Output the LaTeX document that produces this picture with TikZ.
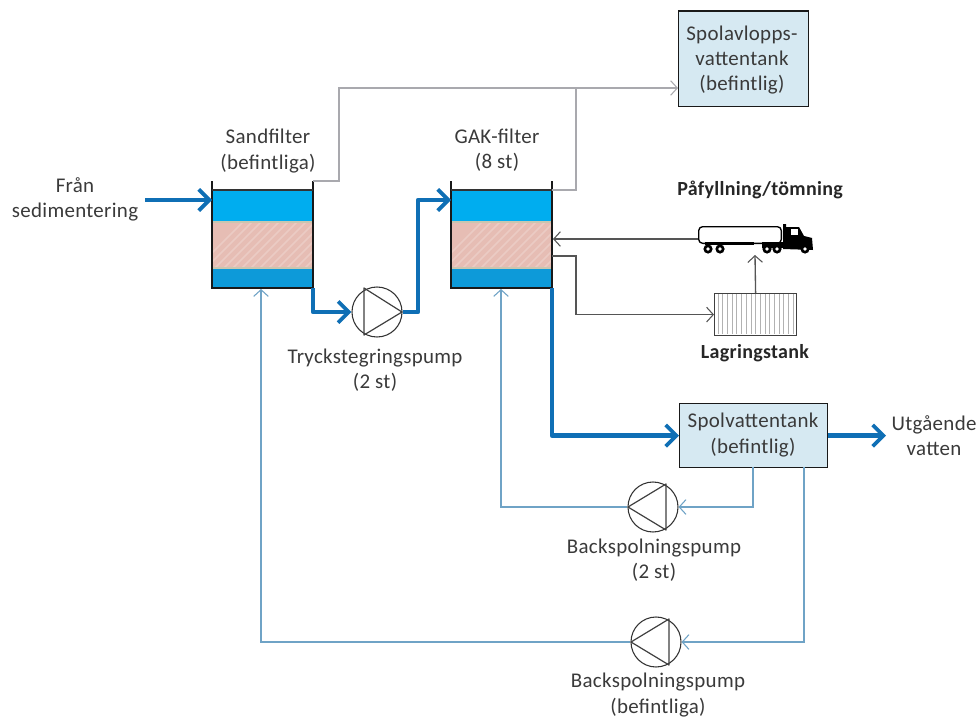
\documentclass[tikz,border=0pt]{standalone}
\usepackage{fontspec}
\setmainfont{Carlito}[LetterSpace=1.5]
\usetikzlibrary{arrows.meta}
\definecolor{txt}{HTML}{3A3A3A}
\definecolor{pipeblue}{HTML}{0F6FB5}
\definecolor{lightpipe}{HTML}{6FA3C6}
\definecolor{greypipe}{HTML}{A9A9AE}
\definecolor{darkpipe}{HTML}{555555}
\definecolor{boxfill}{HTML}{D6E9F2}
\definecolor{watertop}{HTML}{00ADEF}
\definecolor{waterlow}{HTML}{0D9AD9}
\definecolor{sandpink}{HTML}{E6BDB4}
\definecolor{sandstripe}{HTML}{EBCBC4}
\definecolor{sandedge}{HTML}{C9C6B0}
\tikzset{
  x=0.75pt,y=-0.75pt,
  label text/.style={inner sep=0pt,align=center,text=txt,font=\fontsize{15.7}{18.8}\selectfont},
  bold text/.style={inner sep=0pt,align=center,text=black!85,font=\fontsize{15}{15}\selectfont\bfseries},
  tankbox/.style={draw=black!90,line width=1pt,fill=boxfill,inner sep=0pt},
  main pipe/.style={draw=pipeblue,line width=3.4pt,line join=round,-{Straight Barb[length=8pt,width=16pt,line width=2.8pt]}},
  back pipe/.style={draw=lightpipe,line width=1pt,-{Straight Barb[length=5pt,width=11pt,line width=0.8pt]}},
  grey pipe/.style={draw=greypipe,line width=1pt,-{Straight Barb[length=5pt,width=11pt,line width=0.8pt]}},
  grey plain/.style={draw=greypipe,line width=1pt},
  dark pipe/.style={draw=darkpipe,line width=1pt,-{Straight Barb[length=5pt,width=11pt,line width=0.8pt]}},
  pump circle/.style={circle,draw=black!80,line width=0.8pt,fill=white,minimum size=37.5pt,inner sep=0pt},
  pump tri/.style={draw=black!75,line width=0.9pt,line join=round},
  water layer/.style={inner sep=0pt,minimum width=75.75pt},
}
\begin{document}
\begin{tikzpicture}
\useasboundingbox (0,0) rectangle (977,717);
\fill[white] (0,0) rectangle (977,717);

% Sand filter
\node[water layer,fill=watertop,minimum height=24pt,anchor=north west] (s1) at (212,190) {};
\node[water layer,fill=sandpink,minimum height=34.5pt,anchor=north west] (s2) at (212,222) {};
\begin{scope}
\clip (212,222) rectangle (313,268);
\foreach \d in {0,9,...,170}{\draw[sandstripe,line width=1.1pt] (190+\d,275) -- (190+\d+60,215);}
\end{scope}
\node[water layer,fill=waterlow,minimum height=15pt,anchor=north west] (s3) at (212,268) {};
\draw[sandedge,line width=0.8pt] (212,222) -- (313,222) (212,268) -- (313,268);
\draw[line width=1.9pt,black!90] (212,181) -- (212,288) -- (313,288) -- (313,181);
\draw[line width=0.8pt,black!80] (212,190) -- (313,190);
% GAK filter
\node[water layer,fill=watertop,minimum height=24pt,anchor=north west] (g1) at (451,190) {};
\node[water layer,fill=sandpink,minimum height=34.5pt,anchor=north west] (g2) at (451,222) {};
\begin{scope}
\clip (451,222) rectangle (552,268);
\foreach \d in {0,9,...,170}{\draw[sandstripe,line width=1.1pt] (429+\d,275) -- (429+\d+60,215);}
\end{scope}
\node[water layer,fill=waterlow,minimum height=15pt,anchor=north west] (g3) at (451,268) {};
\draw[sandedge,line width=0.8pt] (451,222) -- (552,222) (451,268) -- (552,268);
\draw[line width=1.9pt,black!90] (451,181) -- (451,288) -- (552,288) -- (552,181);
\draw[line width=0.8pt,black!80] (451,190) -- (552,190);

% coordinates on the filters
\coordinate (sandIn) at (212,200);
\coordinate (sandTop) at (313,181);
\coordinate (sandOut) at (313,288);
\coordinate (sandBack) at (261,289);
\coordinate (gakIn) at (451,200);
\coordinate (gakTop) at (552,190);
\coordinate (gakOut) at (552,288);
\coordinate (gakBack) at (501,289);
\coordinate (gakFill) at (553,239);
\coordinate (gakDrain) at (552,256);
\coordinate (fran) at (145,200);
\coordinate (utg) at (886,435);
\coordinate (junction) at (576,88);
\coordinate (truckIn) at (755,255);
\coordinate (spolA) at (753,467);
\coordinate (spolB) at (804,467);

% boxes
\node[tankbox,minimum width=97.5pt,minimum height=71.5pt,anchor=north west] (avlopp) at (678,10.5) {};
\node[tankbox,minimum width=111pt,minimum height=48pt,anchor=north west] (spol) at (679,403) {};
\node[draw=black!75,line width=0.9pt,fill=white,minimum width=61.5pt,minimum height=31.5pt,inner sep=0pt,anchor=north west] (lager) at (714,293) {};
\foreach \i in {0,...,16}{\draw[black!30,line width=0.5pt] (718+\i*4.7,294) -- (718+\i*4.7,334);}

% pumps
\node[pump circle] (p1) at (377,312) {};
\draw[pump tri] (364,288) -- (364,335) -- (402,312) -- cycle;
\node[pump circle] (p2) at (653,507) {};
\draw[pump tri] (666,484) -- (666,530) -- (628,507) -- cycle;
\node[pump circle] (p3) at (656,642) {};
\draw[pump tri] (669,619) -- (669,665) -- (631,642) -- cycle;

% truck
\node[draw=black,line width=1pt,fill=white,rounded corners=3pt,minimum width=62pt,minimum height=12.5pt,inner sep=0pt,anchor=north west] (trucktank) at (698,226) {};
\fill[black] (705,242) rectangle (754,245);
\fill[black] (762,242) rectangle (784,248);
\fill[black] (783,224) -- (786,224) -- (786,227) -- (799,227) -- (804,236) -- (812,238) -- (813,250) -- (783,249) -- cycle;
\fill[white] (791,229) rectangle (798,235);
\foreach \wx in {708,720,767,777,805}{\fill[black] (\wx,249) circle (4.6); \fill[white] (\wx,249) circle (1.9);}

% main flow
\draw[main pipe] (fran) -- (sandIn);
\draw[main pipe] (sandOut) |- (p1.west);
\draw[main pipe] (p1.east) -- (418,312) -- (418,200) -- (gakIn);
\draw[main pipe] (gakOut) |- (spol.west);
\draw[main pipe] (spol.east) -- (utg |- spol.east);

% grey
\draw[grey pipe] (sandTop) -- (339,181) -- (339,88) -- (avlopp.west |- junction);
\draw[grey plain] (gakTop) -- (576,190) -- (junction);

% dark
\draw[dark pipe] (trucktank.west |- gakFill) -- (gakFill);
\draw[dark pipe] (gakDrain) -- (576,256) |- (lager.west);
\draw[dark pipe] (lager.north) -- (truckIn);

% back flush
\draw[back pipe] (spolA) |- (p2.east);
\draw[back pipe] (p2.west) -| (gakBack);
\draw[back pipe] (spolB) |- (p3.east);
\draw[back pipe] (p3.west) -| (sandBack);

% labels
\node[label text] (tFran) at (75,199) {Från\\sedimentering};
\node[label text] (tSand) at (268,151) {Sandfilter\\(befintliga)};
\node[label text] (tGak) at (497,150) {GAK-filter\\(8 st)};
\node[label text] (tTryck) at (375,370) {Tryckstegringspump\\(2 st)};
\node[label text] (tBack1) at (654,560) {Backspolningspump\\(2 st)};
\node[label text] (tBack2) at (658,695) {Backspolningspump\\(befintliga)};
\node[label text] (tSpol) at (753,435) {Spolvattentank\\(befintlig)};
\node[label text] (tAvl) at (742,60) {Spolavlopps-\\vattentank\\(befintlig)};
\node[label text] (tUtg) at (934,436) {Utgående\\vatten};
\node[bold text] (tPa) at (760,190) {Påfyllning/tömning};
\node[bold text] (tLag) at (755,353) {Lagringstank};
\end{tikzpicture}
\end{document}
